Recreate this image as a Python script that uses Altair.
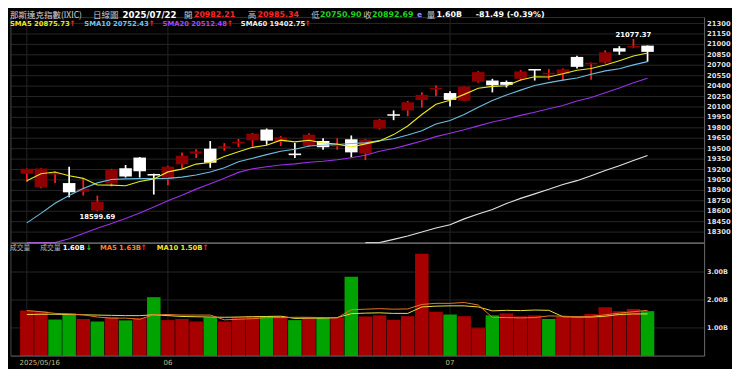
import altair as alt
import numpy as np
import pandas as pd

# ------------------------------------------------------------------
# Data (Nasdaq Composite, daily)
# ------------------------------------------------------------------
dates = ["2025-05-16", "2025-05-19", "2025-05-20", "2025-05-21", "2025-05-22", "2025-05-23",
         "2025-05-27", "2025-05-28", "2025-05-29", "2025-05-30",
         "2025-06-02", "2025-06-03", "2025-06-04", "2025-06-05", "2025-06-06",
         "2025-06-09", "2025-06-10", "2025-06-11", "2025-06-12", "2025-06-13",
         "2025-06-16", "2025-06-17", "2025-06-18", "2025-06-20",
         "2025-06-23", "2025-06-24", "2025-06-25", "2025-06-26", "2025-06-27", "2025-06-30",
         "2025-07-01", "2025-07-02", "2025-07-03",
         "2025-07-07", "2025-07-08", "2025-07-09", "2025-07-10", "2025-07-11",
         "2025-07-14", "2025-07-15", "2025-07-16", "2025-07-17", "2025-07-18",
         "2025-07-21", "2025-07-22"]

opens = [19140, 18940, 19135, 19005, 18880, 18610, 19000, 19220, 19372, 19135,
         19058, 19275, 19430, 19500, 19515, 19585, 19620, 19775, 19600, 19430,
         19540, 19610, 19540, 19635, 19430, 19790, 19995, 20050, 20200, 20360,
         20300, 20190, 20465, 20480, 20460, 20505, 20640, 20575, 20575, 20820,
         20720, 20740, 20945, 20960, 20982.21]
highs = [19215, 19220, 19170, 19240, 19070, 18825, 19210, 19265, 19380, 19140,
         19255, 19445, 19490, 19610, 19580, 19640, 19725, 19790, 19680, 19580,
         19720, 19650, 19650, 19690, 19640, 19925, 20050, 20187, 20312, 20410,
         20325, 20395, 20615, 20505, 20480, 20630, 20645, 20645, 20655, 20835,
         20740, 20915, 20975, 21077.37, 20985.34]
lows = [19020, 18930, 19005, 18800, 18825, 18599.69, 18955, 19085, 19085, 18840,
        18975, 19210, 19365, 19225, 19470, 19525, 19530, 19555, 19540, 19365,
        19525, 19485, 19485, 19375, 19335, 19775, 19910, 19967, 20090, 20255,
        20105, 20185, 20450, 20310, 20380, 20475, 20480, 20490, 20480, 20655,
        20490, 20725, 20850, 20945, 20750.90]
closes = [19211, 19215, 19143, 18872, 18925, 18737, 19199, 19101, 19175, 19114,
          19242, 19398, 19460, 19298, 19530, 19591, 19715, 19615, 19662, 19407,
          19701, 19521, 19546, 19447, 19631, 19913, 19973, 20168, 20273, 20370,
          20202, 20393, 20601, 20412, 20418, 20611, 20630, 20586, 20640, 20677,
          20730, 20885, 20896, 20974, 20892.69]

# volume in billions and whether the day closed up (red) or down (green)
volumes = [1.62, 1.60, 1.30, 1.52, 1.32, 1.23, 1.39, 1.27, 1.35, 2.10,
           1.28, 1.32, 1.23, 1.38, 1.23, 1.38, 1.42, 1.42, 1.41, 1.28,
           1.39, 1.37, 1.37, 2.83, 1.41, 1.45, 1.29, 1.42, 3.65, 1.58,
           1.48, 1.42, 0.99, 1.45, 1.52, 1.42, 1.45, 1.32, 1.40, 1.40,
           1.50, 1.74, 1.60, 1.68, 1.60]
vol_up = [1, 1, 0, 0, 1, 0, 1, 0, 1, 0,
          1, 1, 1, 0, 1, 1, 1, 0, 1, 0,
          1, 0, 1, 0, 1, 1, 1, 1, 1, 1,
          0, 1, 1, 0, 1, 1, 1, 0, 1, 1,
          1, 1, 1, 1, 0]

sma5 = [19037, 19139, 19165, 19111, 19073, 18978, 18975, 18967, 19027, 19065,
        19166, 19206, 19278, 19302, 19386, 19455, 19519, 19550, 19623, 19598,
        19620, 19581, 19567, 19524, 19569, 19612, 19702, 19826, 19992, 20139,
        20197, 20281, 20368, 20396, 20405, 20487, 20534, 20531, 20577, 20629,
        20653, 20704, 20766, 20832, 20875.73]
sma10 = [18432, 18569, 18714, 18827, 18927, 19008, 19057, 19066, 19069, 19069,
         19072, 19091, 19122, 19165, 19225, 19311, 19362, 19414, 19463, 19492,
         19538, 19550, 19559, 19574, 19584, 19616, 19642, 19697, 19758, 19854,
         19904, 19992, 20097, 20194, 20272, 20342, 20408, 20450, 20486, 20517,
         20570, 20619, 20649, 20705, 20752.43]
sma20 = [18000, 18070, 18135, 18205, 18280, 18355, 18425, 18495, 18575, 18660,
         18752, 18830, 18918, 18996, 19076, 19159, 19210, 19240, 19266, 19281,
         19305, 19320, 19341, 19369, 19405, 19463, 19502, 19555, 19610, 19673,
         19721, 19771, 19828, 19884, 19928, 19979, 20025, 20073, 20122, 20186,
         20237, 20305, 20373, 20449, 20512.48]
sma60 = [None] * 24 + [18090, 18145, 18195, 18245, 18300, 18360, 18405, 18490, 18560, 18625,
                       18710, 18785, 18850, 18915, 18985, 19040, 19110, 19185, 19255, 19330,
                       19402.75]

vma5 = [1.62, 1.58, 1.52, 1.50, 1.47, 1.39, 1.35, 1.35, 1.31, 1.47,
        1.48, 1.46, 1.46, 1.46, 1.29, 1.31, 1.33, 1.37, 1.37, 1.38,
        1.38, 1.37, 1.36, 1.65, 1.67, 1.69, 1.67, 1.68, 1.84, 1.88,
        1.88, 1.91, 1.82, 1.38, 1.37, 1.36, 1.37, 1.43, 1.42, 1.40,
        1.41, 1.47, 1.53, 1.58, 1.63]
vma10 = [1.48, 1.49, 1.49, 1.48, 1.47, 1.46, 1.45, 1.44, 1.44, 1.47,
         1.44, 1.41, 1.40, 1.39, 1.38, 1.39, 1.40, 1.41, 1.42, 1.34,
         1.35, 1.35, 1.37, 1.51, 1.53, 1.54, 1.52, 1.52, 1.75, 1.78,
         1.79, 1.79, 1.75, 1.61, 1.63, 1.62, 1.64, 1.63, 1.40, 1.39,
         1.39, 1.42, 1.48, 1.50, 1.50]

price_ticks = list(range(18300, 21301, 150))
vol_ticks = [1, 2, 3]
x_tick_labels = ["2025/05/16", "06", "07"]
x_tick_index = [0, 10, 30]

# ------------------------------------------------------------------
# Layout helpers (reference pixels -> chart pixels)
# ------------------------------------------------------------------
W, H = 724, 361
SX, SY = W / 740.0, H / 377.0


def px(v):
    return round(v * SX, 2)


def py(v):
    return round(v * SY, 2)


NUM = "DejaVu Sans"
CJK = "Noto Sans CJK TC"
GRID = "#262626"
ONE = pd.DataFrame({"k": [0]})

n = len(dates)
idx = list(range(n))

x_scale = alt.Scale(domain=[-0.772, 47.69], range=[px(3), px(712)], nice=False, zero=False)


def X(field="i"):
    return alt.X(f"{field}:Q", scale=x_scale, axis=None)


def PY(field):
    return alt.Y(f"{field}:Q", axis=None,
                 scale=alt.Scale(domain=[18148.8, 21385.7], range=[py(245), py(10)],
                                 nice=False, zero=False, clamp=True))


def VY(field):
    return alt.Y(f"{field}:Q", axis=None,
                 scale=alt.Scale(domain=[0, 3.95], range=[py(363.3), py(248)],
                                 nice=False, zero=True))


# ------------------------------------------------------------------
# Tables
# ------------------------------------------------------------------
df = pd.DataFrame({"i": idx, "date": dates, "open": opens, "high": highs,
                   "low": lows, "close": closes, "vol": volumes, "vup": vol_up})
up = df["close"] >= df["open"]
lo = df[["open", "close"]].min(axis=1)
hi = df[["open", "close"]].max(axis=1)
mid = (lo + hi) / 2
half = np.maximum((hi - lo) / 2, 11)
df["b_lo"] = mid - half
df["b_hi"] = mid + half
df["body_c"] = np.where(up, "#8e0000", "#ffffff")
df["wick_c"] = np.where(up, "#ff1c1c", "#ffffff")
df["vol_c"] = np.where(df["vup"] == 1, "#a60000", "#00a300")

# ------------------------------------------------------------------
# Price pane
# ------------------------------------------------------------------
ptick_df = pd.DataFrame({"t": price_ticks})
grid_p = alt.Chart(ptick_df).mark_rule(color=GRID, strokeWidth=1).encode(
    y=PY("t"), x=alt.value(px(3)), x2=alt.value(px(712)))
labels_p = alt.Chart(ptick_df).mark_text(
    align="left", baseline="middle", font=NUM, fontWeight="bold", fontSize=6.8,
    color="#dedede").encode(y=PY("t"), x=alt.value(px(714.5)),
                            text=alt.Text("t:Q", format="d"))

vgrid = alt.Chart(pd.DataFrame({"i": x_tick_index})).mark_rule(
    color="#242424", strokeWidth=1).encode(x=X(), y=alt.value(py(10)), y2=alt.value(py(363)))

wicks = alt.Chart(df).mark_rule(strokeWidth=1.7).encode(
    x=X(), y=PY("low"), y2="high", color=alt.Color("wick_c:N", scale=None))
bodies = alt.Chart(df).mark_bar(size=px(12.8)).encode(
    x=X(), y=PY("b_lo"), y2="b_hi", color=alt.Color("body_c:N", scale=None))


def ma_line(vals, color, width=1.1):
    d = pd.DataFrame({"i": idx, "v": vals}).dropna()
    return alt.Chart(d).mark_line(color=color, strokeWidth=width).encode(x=X(), y=PY("v"))


l60 = ma_line(sma60, "#e2e2e2")
l20 = ma_line(sma20, "#9b30e8")
l10 = ma_line(sma10, "#6cbde0")
l5 = ma_line(sma5, "#e8e81c")

lo_i = int(np.argmin(lows))
hi_i = int(np.argmax(highs))
ann_lo = alt.Chart(pd.DataFrame({"i": [lo_i], "p": [lows[lo_i]], "s": [f"{lows[lo_i]:.2f}"]})).mark_text(
    baseline="middle", align="center", dy=py(5.5), font=NUM, fontWeight="bold", fontSize=6.8,
    color="#ffffff").encode(x=X(), y=PY("p"), text="s:N")
ann_hi = alt.Chart(pd.DataFrame({"i": [hi_i], "p": [highs[hi_i]], "s": [f"{highs[hi_i]:.2f}"]})).mark_text(
    baseline="middle", align="center", dy=-py(4), font=NUM, fontWeight="bold", fontSize=6.8,
    color="#ffffff").encode(x=X(), y=PY("p"), text="s:N")

price = alt.layer(grid_p, labels_p, vgrid, wicks, bodies, l60, l20, l10, l5, ann_lo, ann_hi)

# ------------------------------------------------------------------
# Volume pane
# ------------------------------------------------------------------
vtick_df = pd.DataFrame({"t": vol_ticks, "s": [f"{t:.2f}B" for t in vol_ticks]})
grid_v = alt.Chart(vtick_df).mark_rule(color=GRID, strokeWidth=1).encode(
    y=VY("t"), x=alt.value(px(3)), x2=alt.value(px(712)))
labels_v = alt.Chart(vtick_df).mark_text(
    align="left", baseline="middle", font=NUM, fontWeight="bold", fontSize=6.5,
    color="#dedede").encode(y=VY("t"), x=alt.value(px(714.5)), text="s:N")
vbars = alt.Chart(df).mark_bar(size=px(14.63) - 0.8).encode(
    x=X(), y=VY("vol"), y2=alt.datum(0), color=alt.Color("vol_c:N", scale=None))
vm5 = alt.Chart(pd.DataFrame({"i": idx, "v": vma5})).mark_line(
    color="#e0782a", strokeWidth=1).encode(x=X(), y=VY("v"))
vm10 = alt.Chart(pd.DataFrame({"i": idx, "v": vma10})).mark_line(
    color="#e8dc3c", strokeWidth=1).encode(x=X(), y=VY("v"))

vol = alt.layer(grid_v, labels_v, vbars, vm10, vm5)

# ------------------------------------------------------------------
# Frame lines, x labels and header texts
# ------------------------------------------------------------------
def hrule(y, x1, x2, color, w=1.0):
    return alt.Chart(ONE).mark_rule(color=color, strokeWidth=w).encode(
        y=alt.value(py(y)), x=alt.value(px(x1)), x2=alt.value(px(x2)))


def vrule(x, y1, y2, color, w=1.0):
    return alt.Chart(ONE).mark_rule(color=color, strokeWidth=w).encode(
        x=alt.value(px(x)), y=alt.value(py(y1)), y2=alt.value(py(y2)))


def txt(s, x, y, color, size, bold=True, font=NUM):
    return alt.Chart(ONE).mark_text(
        align="left", baseline="middle", font=font, fontSize=size,
        fontWeight="bold" if bold else "normal", color=color).encode(
        x=alt.value(px(x)), y=alt.value(py(y)), text=alt.value(s))


frames = [
    hrule(10, 3, 712, "#3a2c2c"),
    hrule(245.5, 3, 712, "#a8a8a8"),
    hrule(363.5, 3, 712, "#6a6a6a"),
    vrule(3, 10, 363.5, "#4a4a4a"),
    vrule(712, 10, 363.5, "#6a6a6a"),
]

xl_first = alt.Chart(pd.DataFrame({"i": [x_tick_index[0] - 0.52], "s": [x_tick_labels[0]]})).mark_text(
    align="left", baseline="middle", font=NUM, fontSize=7, color="#cbbb80").encode(
    x=X(), y=alt.value(py(371)), text="s:N")
xl_rest = alt.Chart(pd.DataFrame({"i": x_tick_index[1:], "s": x_tick_labels[1:]})).mark_text(
    align="center", baseline="middle", font=NUM, fontSize=7, color="#cbbb80").encode(
    x=X(), y=alt.value(py(371)), text="s:N")

GRAY = "#c4c4c4"
RED = "#ff2626"
GREEN = "#22d422"
L1, L2, LV = 7, 16.5, 251
N1 = 7.9
headers = [
    txt("那斯達克指數(IXIC)", 2, L1, "#d4d4d4", 8.5, bold=False, font=CJK),
    txt("日線圖", 87, L1, GRAY, 8.5, bold=False, font=CJK),
    txt("2025/07/22", 117, L1, "#ffffff", 8.6),
    txt("開", 180, L1, GRAY, 8.5, bold=False, font=CJK),
    txt("20982.21", 190, L1, RED, N1),
    txt("高", 245, L1, GRAY, 8.5, bold=False, font=CJK),
    txt("20985.34", 255, L1, RED, N1),
    txt("低", 310, L1, GRAY, 8.5, bold=False, font=CJK),
    txt("20750.90", 319, L1, GREEN, N1),
    txt("收", 363, L1, GRAY, 8.5, bold=False, font=CJK),
    txt("20892.69", 372, L1, GREEN, N1),
    txt("e", 418, L1, "#8c8cff", 7.5),
    txt("量", 428, L1, GRAY, 8.5, bold=False, font=CJK),
    txt("1.60B", 438, L1, "#ffffff", N1),
    txt("-81.49 (-0.39%)", 478, L1, "#ffffff", N1),
    txt("SMA5 20875.73", 2, L2, "#e8e81c", 6.8),
    txt("↑", 62.5, L2, RED, 7.5),
    txt("SMA10 20752.43", 78, L2, "#72c2e4", 6.8),
    txt("↑", 143.5, L2, RED, 7.5),
    txt("SMA20 20512.48", 158, L2, "#a644f2", 6.8),
    txt("↑", 223.5, L2, RED, 7.5),
    txt("SMA60 19402.75", 238, L2, "#ececec", 6.8),
    txt("↑", 303, L2, RED, 7.5),
    txt("成交量", 2, LV, "#b8b8b8", 6.8, bold=False, font=CJK),
    txt("成交量", 33, LV, "#b8b8b8", 6.8, bold=False, font=CJK),
    txt("1.60B", 56, LV, "#ffffff", 6.8),
    txt("↓", 79.5, LV, GREEN, 7.5),
    txt("MA5 1.63B", 94, LV, "#ff7e22", 6.8),
    txt("↑", 135.5, LV, RED, 7.5),
    txt("MA10 1.50B", 152, LV, "#f2e222", 6.8),
    txt("↑", 198.5, LV, RED, 7.5),
]

deco = alt.layer(*frames, xl_first, xl_rest, *headers)

chart = alt.layer(price, vol, deco).resolve_scale(
    y="independent", color="independent"
).properties(
    width=W, height=H, padding=0, background="#000000",
    autosize=alt.AutoSizeParams(type="none"),
).configure_view(stroke=None)

chart.save("out.html", embed_options={"renderer": "svg", "actions": False})
